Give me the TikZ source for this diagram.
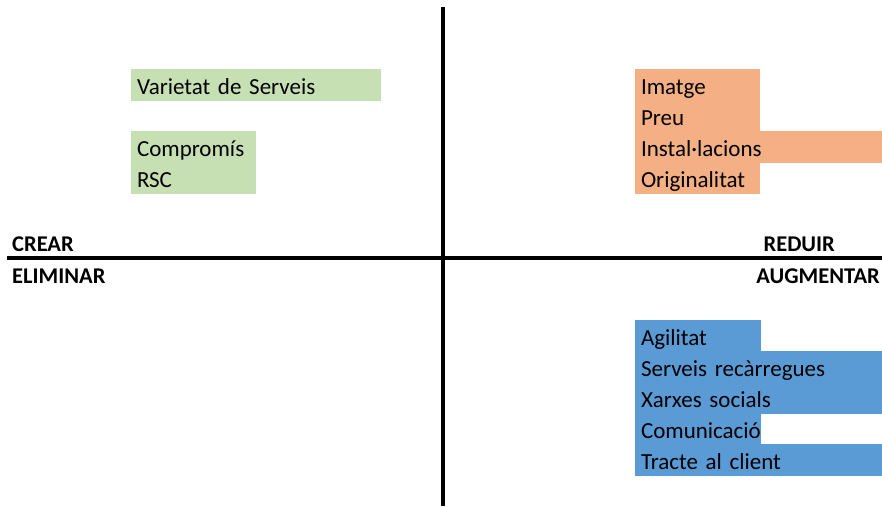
\documentclass[tikz,border=0pt]{standalone}
\usepackage{fontspec}
\setmainfont{Carlito}
\usetikzlibrary{positioning}

\definecolor{cellgreen}{HTML}{C6E0B4}
\definecolor{cellorange}{HTML}{F4B084}
\definecolor{cellblue}{HTML}{5B9BD5}

\tikzset{
  cell/.style={anchor=north west, inner xsep=6pt, inner ysep=0pt, outer sep=0pt,
    minimum height=31pt, text height=19pt, text depth=0pt, align=left,
    line width=0.8pt, font=\fontsize{23}{27}\selectfont},
  greencell/.style={cell, fill=cellgreen, draw=cellgreen},
  orangecell/.style={cell, fill=cellorange, draw=cellorange},
  bluecell/.style={cell, fill=cellblue, draw=cellblue},
  axis/.style={line width=4pt},
  quadlabel/.style={font=\fontsize{22.5}{26}\selectfont\bfseries, inner sep=0pt}
}

\begin{document}
\begin{tikzpicture}[x=1pt,y=-1pt]
  \useasboundingbox (0,0) rectangle (882,506);

  % axes
  \coordinate (vtop) at (443,7);
  \coordinate (vbot) at (443,506);
  \coordinate (hleft) at (7,258);
  \coordinate (hright) at (882,258);
  \draw[axis] (vtop) -- (vbot);
  \draw[axis] (hleft) -- (hright);

  % quadrant labels
  \node[quadlabel, anchor=base west] (crear) at (12,251) {CREAR};
  \node[quadlabel, anchor=base west] (eliminar) at (12,283) {ELIMINAR};
  \node[quadlabel, anchor=base east] (reduir) at (835,251) {REDUIR};
  \node[quadlabel, anchor=base east] (augmentar) at (880,283) {AUGMENTAR};

  % crear
  \node[greencell, text width=237pt] (varietat) at (131,69) {Varietat de Serveis};
  \node[greencell, text width=112pt] (compromis) at (131,131) {Compromís};
  \node[greencell, text width=112pt] (rsc) at (compromis.south west) {RSC};

  % reduir
  \node[orangecell, text width=112pt] (imatge) at (635,69) {Imatge};
  \node[orangecell, text width=112pt] (preu) at (imatge.south west) {Preu};
  \node[orangecell, text width=235pt] (installacions) at (preu.south west) {Instal·lacions};
  \node[orangecell, text width=112pt] (originalitat) at (installacions.south west) {Originalitat};

  % augmentar
  \node[bluecell, text width=113pt] (agilitat) at (635,320) {Agilitat};
  \node[bluecell, text width=235pt] (recarregues) at (agilitat.south west) {Serveis recàrregues};
  \node[bluecell, text width=235pt] (xarxes) at (recarregues.south west) {Xarxes socials};
  \node[bluecell, text width=113pt] (comunicacio) at (xarxes.south west) {Comunicació};
  \node[bluecell, text width=235pt] (tracte) at (comunicacio.south west) {Tracte al client};

\end{tikzpicture}
\end{document}
